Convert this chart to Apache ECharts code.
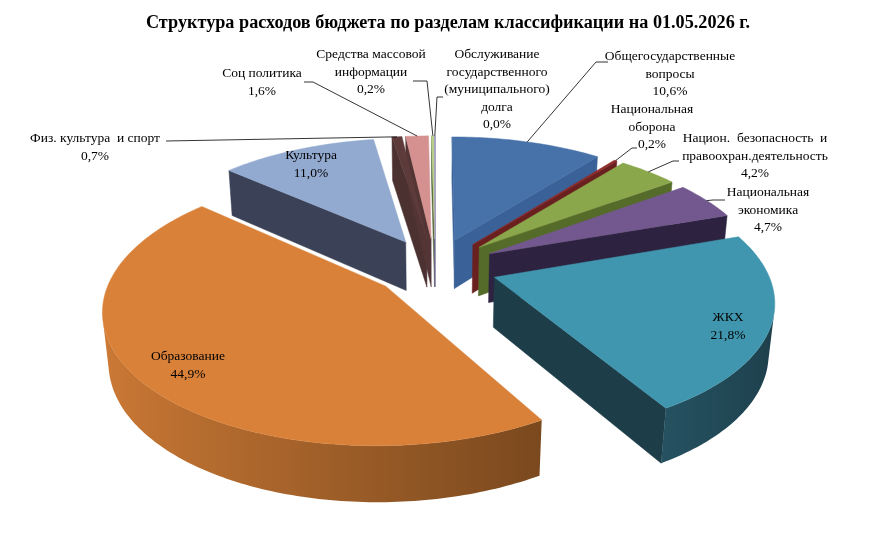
<!DOCTYPE html>
<html>
<head>
<meta charset="utf-8">
<script src="https://cdn.jsdelivr.net/npm/echarts@6/dist/echarts.min.js"></script>
<style>
  html, body { margin: 0; padding: 0; background: #fff; }
  #chart { width: 896px; height: 543px; }
</style>
</head>
<body>
<div id="chart"></div>
<script>
// данные
var categories = [
    'Общегосударственные вопросы',
    'Национальная оборона',
    'Национ. безопасность и правоохран.деятельность',
    'Национальная экономика',
    'ЖКХ',
    'Образование',
    'Культура',
    'Физ. культура и спорт',
    'Соц политика',
    'Средства массовой информации',
    'Обслуживание государственного (муниципального) долга'
];
var values = [10.6, 0.2, 4.2, 4.7, 21.8, 44.9, 11.0, 0.7, 1.6, 0.2, 0.02];
var labelTexts = [
    'Общегосударственные\nвопросы',
    'Национальная\nоборона',
    'Национ.  безопасность  и\nправоохран.деятельность',
    'Национальная\nэкономика',
    'ЖКХ',
    'Образование',
    'Культура',
    'Физ. культура  и спорт',
    'Соц политика',
    'Средства массовой\nинформации',
    'Обслуживание\nгосударственного\n(муниципального)\nдолга'
];

// оформление
var topColors  = ['#4671a9', '#8e2b28', '#8ba74c', '#73588f', '#4096ae', '#d98139',
                  '#93aad0', '#5e3b3b', '#d5918f', '#b9cf8c', '#a9a1ca'];
var sideColors = ['#3a6298', '#6a201e', '#556b2a', '#2d2340', '#1d3d49', '#5e3816',
                  '#3b4257', '#4c3131', '#533535', '#4f5f31', '#6b6390'];
// центр первой строки подписи
var labelPos = [[670, 57], [652, 110], [755, 139], [768, 193], [728, 318], [188, 357],
                [311, 156], [95, 139], [262, 74], [371, 55], [497, 55]];
// начало выноски со стороны подписи (null - подпись внутри)
var leaderPts = [
    [[608, 62], [596, 62]],
    [[637, 148], [632, 148]],
    [[679, 161], [673, 161]],
    [[725, 200], [713, 200]],
    null, null, null,
    [[166, 141]],
    [[304, 82], [313, 82]],
    [[413, 81], [427, 81]],
    [[443, 97], [437, 97]]
];

// псевдо-3D проекция
var CX = 435, CY = 267, F = 1510, D = 5.56, H = 0.21, EXPL = 0.23;
var TILT = 28 * Math.PI / 180;
var ca = Math.cos(TILT), sa = Math.sin(TILT);
var cam = [0, D * sa, -D * ca];

var total = values.reduce(function (s, v) { return s + v; }, 0);
var starts = [], acc = 0;
values.forEach(function (v) { starts.push(acc / total * Math.PI * 2); acc += v; });

function proj(X, Y, Z) {
    var yv = Y * ca + Z * sa;
    var zv = Z * ca - Y * sa + D;
    return [CX + F * X / zv, CY - F * yv / zv, zv];
}
function facing(n, p) {
    return n[0] * (cam[0] - p[0]) + n[1] * (cam[1] - p[1]) + n[2] * (cam[2] - p[2]) > 0;
}
function mix(c1, c2, t) {
    var a = parseInt(c1.slice(1), 16), b = parseInt(c2.slice(1), 16);
    var r = [16, 8, 0].map(function (s) {
        var x = (a >> s) & 255, y = (b >> s) & 255;
        return Math.round(x + (y - x) * t);
    });
    return 'rgb(' + r.join(',') + ')';
}
function xy(p) { return [p[0], p[1]]; }

function renderItem(params, api) {
    var i = params.dataIndex;
    var a = starts[i];
    var b = a + values[i] / total * Math.PI * 2;
    var m = (a + b) / 2;
    var ox = EXPL * Math.sin(m), oz = EXPL * Math.cos(m);
    function rim(t, y) { return proj(ox + Math.sin(t), y, oz + Math.cos(t)); }

    var cen = proj(ox + 0.6 * Math.sin(m), 0, oz + 0.6 * Math.cos(m));
    var base = Math.round((8 - cen[2]) * 100);
    var children = [];
    var steps = Math.max(2, Math.ceil((b - a) / (Math.PI / 180)));

    // боковые грани
    var walls = [[a, [-Math.cos(a), 0, Math.sin(a)]], [b, [Math.cos(b), 0, -Math.sin(b)]]];
    walls.forEach(function (w) {
        if (!facing(w[1], [ox, 0, oz])) return;
        var pts = [proj(ox, 0, oz), proj(ox, -H, oz), rim(w[0], -H), rim(w[0], 0)].map(xy);
        children.push({ type: 'polygon', z2: base, shape: { points: pts },
            style: { fill: sideColors[i], stroke: sideColors[i], lineWidth: 0.5 } });
    });

    // внешняя стенка: видимые участки одним многоугольником с градиентом
    var runs = [], cur = null;
    for (var k = 0; k <= steps; k++) {
        var t = a + (b - a) * k / steps;
        var ok = facing([Math.sin(t), 0, Math.cos(t)], [ox + Math.sin(t), 0, oz + Math.cos(t)]);
        if (ok) { if (!cur) { cur = []; runs.push(cur); } cur.push(t); }
        else cur = null;
    }
    runs.forEach(function (run) {
        if (run.length < 2) return;
        var upper = run.map(function (t) { return rim(t, 0); });
        var lower = run.map(function (t) { return rim(t, -H); }).reverse();
        var pts = upper.concat(lower).map(xy);
        var xs = upper.map(function (p) { return p[0]; });
        var x0 = Math.min.apply(null, xs), x1 = Math.max.apply(null, xs);
        var stops = run.map(function (t, q) {
            return { offset: x1 > x0 ? (xs[q] - x0) / (x1 - x0) : 0,
                     color: mix(sideColors[i], topColors[i], 0.92 * (1 - Math.sin(t)) / 2) };
        }).sort(function (p, q) { return p.offset - q.offset; });
        var fill = new echarts.graphic.LinearGradient(x0, 0, x1 + 0.01, 0, stops, true);
        children.push({ type: 'polygon', z2: base, shape: { points: pts },
            style: { fill: fill } });
    });

    // верхняя грань
    var top = [xy(proj(ox, 0, oz))];
    for (var j = 0; j <= steps; j++) top.push(xy(rim(a + (b - a) * j / steps, 0)));
    children.push({ type: 'polygon', z2: base + 1, shape: { points: top },
        style: { fill: topColors[i], stroke: topColors[i], lineWidth: 0.5 } });

    // подпись
    var lp = labelPos[i];
    children.push({ type: 'text', z2: 5000, x: lp[0], y: lp[1] - 9,
        style: { text: labelTexts[i] + '\n' + api.value(0).toFixed(1).replace('.', ',') + '%',
                 fill: '#000', font: '13.5px "Liberation Serif"',
                 align: 'center', verticalAlign: 'top', lineHeight: 17.5 } });
    if (leaderPts[i]) {
        var anchor = xy(rim(m, 0));
        children.push({ type: 'polyline', z2: 5000,
            shape: { points: leaderPts[i].concat([anchor]) },
            style: { stroke: '#000', fill: null, lineWidth: 0.8 } });
    }
    return { type: 'group', children: children };
}

var myChart = echarts.init(document.getElementById('chart'));
myChart.setOption({
    animation: false,
    title: {
        text: 'Структура расходов бюджета по разделам классификации на 01.05.2026 г.',
        left: 'center',
        top: 9,
        textStyle: { fontFamily: 'Liberation Serif', fontSize: 18.2, fontWeight: 'bold', color: '#000' }
    },
    series: [{
        type: 'custom',
        coordinateSystem: 'none',
        renderItem: renderItem,
        data: values.map(function (v, i) { return { name: categories[i], value: v }; })
    }]
});
</script>
</body>
</html>
